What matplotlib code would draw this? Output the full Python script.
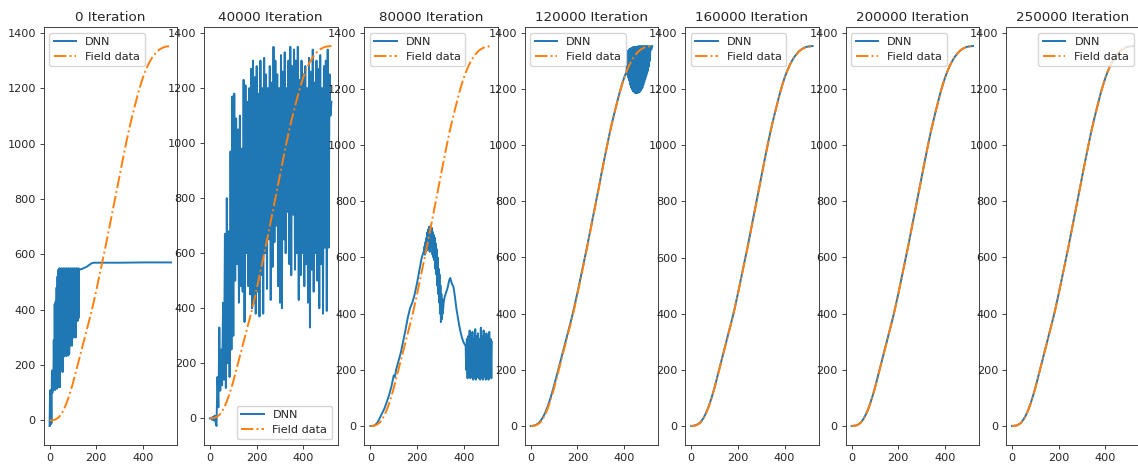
import matplotlib
matplotlib.use("Agg")
import matplotlib.pyplot as plt
from matplotlib.ticker import MultipleLocator

plt.rcParams['path.simplify'] = False

# ---------------- data ----------------
titles = ["0 Iteration", "40000 Iteration", "80000 Iteration", "120000 Iteration",
          "160000 Iteration", "200000 Iteration", "250000 Iteration"]
legend_locs = ["upper left", "lower right", "upper left", "upper left",
               "upper left", "upper left", "upper right"]

field_x = [0, 10, 20, 30, 40, 50, 60, 70, 80, 90, 100, 110, 120, 130, 140, 150, 160, 170,
           180, 190, 200, 210, 220, 230, 240, 250, 260, 270, 280, 290, 300, 310, 320, 330,
           340, 350, 360, 370, 380, 390, 400, 410, 420, 430, 440, 450, 460, 470, 480, 490,
           500, 510, 520]
field_y = [0, 0.5, 2, 6, 12, 23, 38, 57, 80, 106, 135, 167, 200, 232, 265, 297, 330, 362,
           395, 432, 470, 510, 550, 590, 630, 672, 715, 757, 800, 842, 885, 928, 970, 1011,
           1050, 1086, 1120, 1153, 1185, 1214, 1240, 1262, 1282, 1298, 1312, 1323, 1333, 1340,
           1345, 1349, 1351, 1352, 1353]

# 0 iteration
dnn0_x = [0, 2, 4, 6, 8, 10, 12, 14, 16, 18, 20, 22, 24, 26, 28, 30, 32, 34, 36, 38, 40,
          42, 44, 46, 48, 50, 52, 54, 56, 58, 60, 62, 64, 66, 68, 70, 72, 74, 76, 78, 80,
          82, 84, 86, 88, 90, 92, 94, 96, 98, 100, 102, 104, 106, 108, 110, 112, 114, 116,
          118, 120, 122, 124, 126, 128, 140, 150, 160, 170, 180, 190, 300, 400, 520]
dnn0_y = [-20, 108, -15, 110, -10, 180, 100, 180, 110, 290, 115, 420, 110, 430, 120, 480,
          115, 520, 120, 545, 130, 550, 120, 548, 180, 550, 185, 546, 175, 550, 230, 548,
          235, 550, 240, 548, 232, 550, 238, 548, 235, 550, 240, 548, 270, 550, 275, 548,
          270, 550, 300, 548, 300, 550, 305, 548, 300, 550, 360, 548, 360, 550, 370, 548,
          545, 548, 552, 556, 562, 568, 570, 570, 571, 571]

# 40000 iteration
dnn1_x = [0, 4, 8, 12, 16, 20, 24, 28, 32, 36, 40, 44, 48, 52, 56, 60, 64, 68, 72, 76, 80,
          84, 88, 92, 96, 100, 104, 108, 112, 116, 120, 124, 128, 132, 136, 140, 144, 148,
          152, 156, 160, 164, 168, 172, 176, 180, 184, 188, 192, 196, 200, 204, 208, 212,
          216, 220, 224, 228, 232, 236, 240, 244, 248, 252, 256, 260, 264, 268, 272, 276,
          280, 284, 288, 292, 296, 300, 304, 308, 312, 316, 320, 324, 328, 332, 336, 340,
          344, 348, 352, 356, 360, 364, 368, 372, 376, 380, 384, 388, 392, 396, 400, 404,
          408, 412, 416, 420, 424, 428, 432, 436, 440, 444, 448, 452, 456, 460, 464, 468,
          472, 476, 480, 484, 488, 492, 496, 500, 504, 508, 512, 516, 520]
dnn1_y = [0, 2, -5, 5, -8, 10, -15, -28, 150, 40, 330, 100, 250, 120, 420, 140, 670, 110,
          800, 200, 680, 150, 970, 250, 1170, 300, 1180, 500, 1090, 560, 1050, 420, 1100,
          480, 980, 460, 1230, 350, 1210, 600, 1150, 480, 1200, 450, 1270, 400, 1300, 420,
          1240, 380, 1280, 460, 1180, 370, 1300, 520, 1200, 380, 1310, 600, 1250, 470, 1200,
          650, 1280, 430, 1220, 550, 1350, 640, 1300, 700, 1250, 480, 1200, 420, 1320, 400,
          1260, 650, 1330, 600, 1200, 750, 1300, 560, 1350, 520, 1280, 740, 1340, 540, 1300,
          600, 1350, 430, 1230, 520, 1300, 600, 1250, 480, 1280, 560, 1200, 420, 1310, 330,
          1260, 540, 1340, 460, 1220, 600, 1300, 500, 1270, 400, 1320, 560, 1200, 380, 1280,
          620, 1300, 390, 1340, 620, 1250, 1100, 1150]

# 80000 iteration
dnn2_x = [0, 10, 20, 30, 40, 50, 60, 70, 80, 90, 100, 105, 110, 120, 130, 140, 150, 160, 170,
          180, 190, 200, 210, 220, 230, 232, 234, 236, 238, 240, 242, 244, 246, 248, 250,
          252, 254, 256, 258, 260, 262, 264, 266, 268, 270, 272, 274, 276, 278, 280, 282,
          284, 286, 288, 290, 292, 294, 296, 298, 300, 302, 304, 306, 308, 310, 314, 318,
          322, 326, 330, 334, 338, 342, 346, 350, 356, 362, 368, 374, 380, 386, 392, 398,
          404, 408, 410, 413, 416, 419, 422, 425, 428, 431, 434, 437, 440, 443, 446, 449,
          452, 455, 458, 461, 464, 467, 470, 473, 476, 479, 482, 485, 488, 491, 494, 497,
          500, 503, 506, 509, 512, 515, 518, 520]
dnn2_y = [0, 0, 3, 12, 28, 45, 62, 85, 110, 140, 180, 175, 200, 230, 260, 300, 340, 385,
          420, 440, 470, 510, 555, 600, 625, 640, 610, 655, 620, 670, 625, 690, 630, 700,
          640, 710, 620, 705, 650, 700, 640, 705, 610, 690, 600, 680, 590, 670, 560, 650,
          540, 630, 500, 600, 470, 560, 440, 540, 400, 500, 370, 470, 380, 450, 400, 440,
          460, 470, 480, 490, 505, 520, 527, 515, 505, 495, 460, 420, 390, 360, 335, 315,
          300, 290, 285, 200, 310, 170, 320, 180, 340, 170, 300, 175, 335, 165, 310, 170,
          345, 165, 320, 175, 330, 170, 310, 165, 350, 170, 320, 165, 340, 175, 300, 165,
          330, 170, 320, 165, 335, 175, 310, 170, 300]

# 120000 iteration
dnn3_x = [0, 10, 20, 30, 40, 50, 60, 70, 80, 90, 100, 110, 120, 130, 140, 150, 160, 170,
          180, 190, 200, 210, 220, 230, 240, 250, 260, 270, 280, 290, 300, 310, 320, 330,
          340, 350, 360, 370, 380, 390, 400, 410, 412, 414, 416, 418, 420, 422, 424, 426,
          428, 430, 432, 434, 436, 438, 440, 442, 444, 446, 448, 450, 452, 454, 456, 458,
          460, 462, 464, 466, 468, 470, 472, 474, 476, 478, 480, 482, 484, 486, 488, 490,
          492, 494, 496, 498, 500, 502, 504, 506, 508, 510, 512, 516, 520]
dnn3_y = [0, 1, 3, 8, 16, 28, 44, 64, 88, 115, 145, 176, 208, 240, 272, 304, 336, 368,
          401, 438, 476, 515, 555, 594, 634, 676, 718, 760, 802, 844, 887, 930, 971, 1012,
          1051, 1087, 1121, 1154, 1186, 1215, 1241, 1262, 1300, 1250, 1335, 1240, 1340, 1230,
          1342, 1215, 1344, 1205, 1346, 1198, 1348, 1192, 1349, 1190, 1350, 1186, 1350, 1185,
          1350, 1185, 1351, 1186, 1351, 1188, 1352, 1190, 1352, 1194, 1352, 1200, 1352, 1205,
          1352, 1215, 1352, 1225, 1352, 1235, 1352, 1245, 1352, 1255, 1352, 1265, 1352, 1280,
          1352, 1300, 1352, 1340, 1353]

# 160000 / 200000 / 250000 iterations (converged)
dnn4_y = [0, 1, 3, 7, 14, 25, 40, 59, 82, 108, 137, 169, 202, 234, 267, 299, 332, 364,
          397, 434, 472, 512, 552, 592, 632, 674, 717, 759, 802, 844, 887, 930, 971, 1012,
          1051, 1087, 1121, 1154, 1186, 1215, 1241, 1263, 1283, 1299, 1313, 1324, 1334, 1341,
          1346, 1350, 1352, 1353, 1354]
dnn5_y = [0, 1, 2, 6, 13, 24, 39, 58, 81, 107, 136, 168, 201, 233, 266, 298, 331, 363,
          396, 433, 471, 511, 551, 591, 631, 673, 716, 758, 801, 843, 886, 929, 970, 1011,
          1050, 1086, 1120, 1153, 1185, 1214, 1240, 1262, 1282, 1298, 1312, 1323, 1333, 1340,
          1345, 1349, 1351, 1352, 1353]
dnn6_y = [0, 1, 2, 6, 13, 24, 39, 58, 81, 107, 136, 168, 201, 233, 266, 298, 331, 363,
          396, 433, 471, 511, 551, 591, 631, 673, 716, 758, 801, 843, 886, 929, 970, 1011,
          1050, 1086, 1120, 1153, 1185, 1214, 1240, 1262, 1282, 1298, 1312, 1323, 1333, 1340,
          1345, 1349, 1351, 1352, 1353]

dnn_series = [(dnn0_x, dnn0_y), (dnn1_x, dnn1_y), (dnn2_x, dnn2_y), (dnn3_x, dnn3_y),
              (field_x, dnn4_y), (field_x, dnn5_y), (field_x, dnn6_y)]

# ---------------- figure ----------------
W, H = 1138, 469
fig = plt.figure(figsize=(W / 100, H / 100), dpi=100)

lefts_px = [43.5, 203.9, 364.3, 524.7, 685.1, 845.5, 1005.9]
ax_w_px = 133.6
top_px, bot_px = 27, 445

lw = 1.4
for i, (title, loc) in enumerate(zip(titles, legend_locs)):
    ax = fig.add_axes([lefts_px[i] / W, 1 - bot_px / H, ax_w_px / W, (bot_px - top_px) / H])
    dx, dy = dnn_series[i]
    ax.plot(dx, dy, color="#1f77b4", lw=lw, label="DNN")
    ax.plot(field_x, field_y, color="#ff7f0e", lw=lw, ls="-.", label="Field data")
    ax.set_title(title, fontsize=9.7, pad=4.5, color="#262626")
    ax.xaxis.set_major_locator(MultipleLocator(200))
    ax.yaxis.set_major_locator(MultipleLocator(200))
    ax.tick_params(labelsize=8.1, length=2.8, width=0.65, pad=2.8,
                   colors="#333333", labelcolor="#262626")
    for s in ax.spines.values():
        s.set_linewidth(0.65)
        s.set_color("#333333")
    leg = ax.legend(loc=loc, fontsize=8.1, handlelength=2.0, borderpad=0.4,
                    labelspacing=0.4, handletextpad=0.8)
    for t in leg.get_texts():
        t.set_color("#262626")

fig.savefig("out.png", dpi=100)
